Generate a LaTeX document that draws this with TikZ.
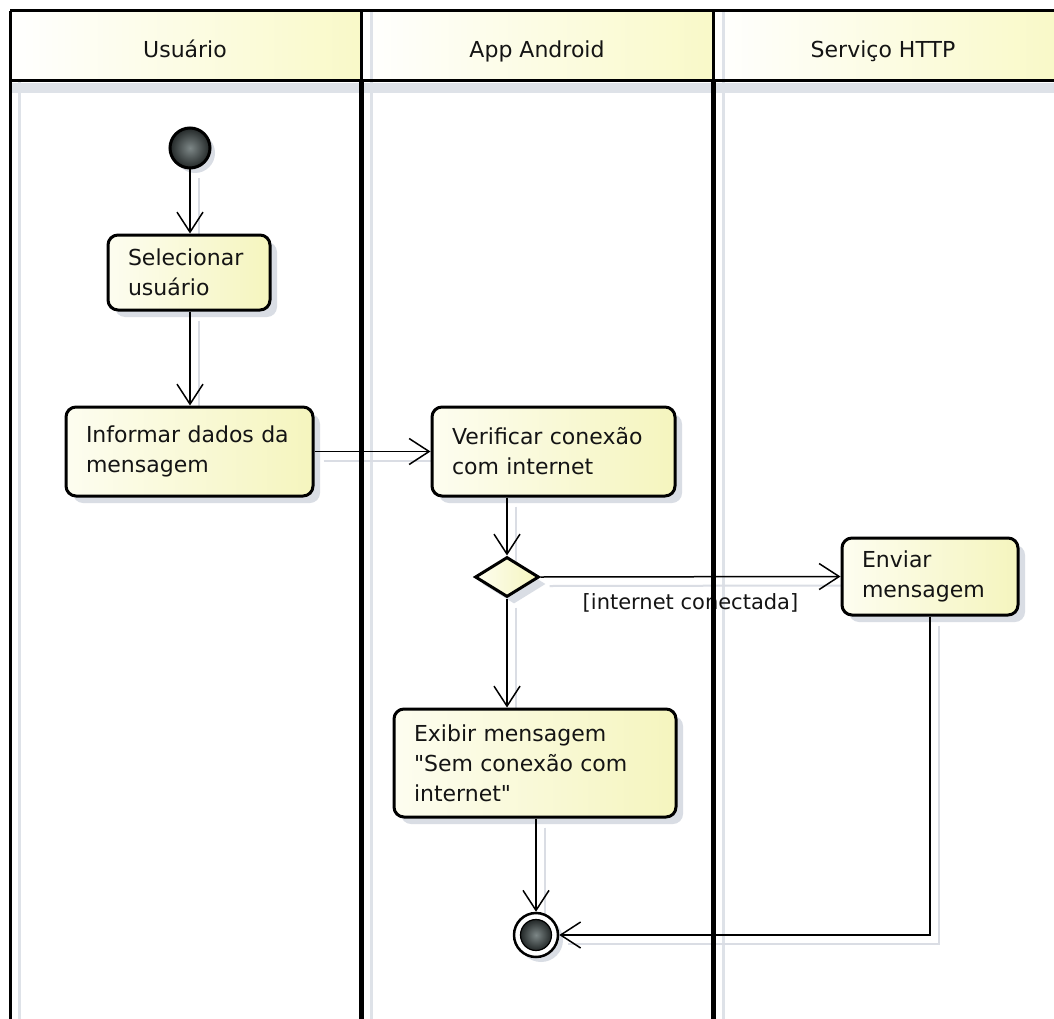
\documentclass[tikz,border=0pt]{standalone}
\usepackage{fontspec}
\setmainfont{DejaVu Sans}
\newfontfamily\qfont{DejaVu Sans}
\newcommand{\sq}{{\qfont\char34}}
\usetikzlibrary{arrows.meta,shapes.geometric,shadows,backgrounds}
\pgfdeclarelayer{foreground}
\pgfsetlayers{background,main,foreground}

\definecolor{boxlight}{RGB}{253,253,240}
\definecolor{boxyellow}{RGB}{245,245,190}
\definecolor{headyellow}{RGB}{249,249,200}
\definecolor{shadowgray}{RGB}{208,213,222}
\definecolor{inkgray}{RGB}{20,20,20}

\begin{document}
\begin{tikzpicture}[x=1pt,y=-1pt,
  txt/.style={font=\fontsize{22}{30}\selectfont, text=inkgray},
  activity/.style={txt, draw=black, line width=3pt, rounded corners=10pt,
    left color=boxlight, right color=boxyellow, align=left,
    inner xsep=20pt, inner ysep=0pt,
    drop shadow={shadow xshift=7pt, shadow yshift=-7pt, fill=shadowgray, opacity=0.8}},
  decision/.style={diamond, draw=black, line width=3pt, inner sep=0pt,
    left color=boxlight, right color=boxyellow,
    drop shadow={shadow xshift=7pt, shadow yshift=-7pt, fill=shadowgray, opacity=0.8}},
  startdot/.style={circle, draw=black, line width=3pt, inner sep=0pt,
    inner color={rgb,255:red,125;green,135;blue,135}, outer color={rgb,255:red,35;green,40;blue,40},
    drop shadow={shadow xshift=5pt, shadow yshift=-5pt, fill=shadowgray, opacity=0.8}},
  flow/.style={line width=1.5pt, black, -{Straight Barb[length=20pt,width=26pt]}},
  flowshadow/.style={line width=2pt, shadowgray!80,
    transform canvas={xshift=9pt,yshift=-9pt}},
  lanehead/.style={txt, anchor=base},
  laneline/.style={line width=3pt, black},
  lanedivider/.style={line width=5pt, black},
  laneshadow/.style={line width=3pt, shadowgray!70}
]
\useasboundingbox (0,0) rectangle (1054,1019);

% lane titles
\node[lanehead] (hUser) at (185,58) {Usuário};
\node[lanehead] (hApp)  at (537,58) {App Android};
\node[lanehead] (hHttp) at (883,58) {Serviço HTTP};

% activities
\node[startdot, minimum size=40pt] (init) at (190,148) {};
\node[activity, text width=122pt, minimum height=75pt] (sel) at (189,272.5)
  {Selecionar\\usuário};
\node[activity, text width=207pt, minimum height=89pt] (inf) at (189.5,451.5)
  {Informar dados da\\mensagem};
\node[activity, text width=203pt, minimum height=89pt] (ver) at (553.5,451.5)
  {Verificar conexão\\com internet};
\node[decision, minimum width=64pt, minimum height=40pt] (dia) at (507,577) {};
\node[activity, text width=136pt, minimum height=77pt] (env) at (930,576.5)
  {Enviar\\mensagem};
\node[activity, text width=242pt, minimum height=108pt] (exi) at (535,763)
  {Exibir mensagem\\\sq Sem conexão com\\internet\sq};
\node[circle, draw=black, line width=2.5pt, fill=white, minimum size=44pt, inner sep=0pt,
  drop shadow={shadow xshift=5pt, shadow yshift=-5pt, fill=shadowgray, opacity=0.8}]
  (fin) at (536,935) {};
\node[circle, draw=black, line width=1.2pt, minimum size=31pt, inner sep=0pt,
  inner color={rgb,255:red,125;green,135;blue,135}, outer color={rgb,255:red,35;green,40;blue,40}]
  (finin) at (fin.center) {};

% control flow
\draw[flow] (init) -- (init |- sel.north);
\draw[flow] (init |- sel.south) -- (init |- inf.north);
\draw[flow] (inf.east) -- (ver.west);
\draw[flow] (dia.north |- ver.south) -- (dia.north);
\draw[flow] (dia.east) -- node[txt, font=\fontsize{21}{26}\selectfont, midway, anchor=north, inner sep=0pt, yshift=-16pt] (guard) {[internet conectada]} (env.west);
\draw[flow] (dia.south) -- (dia.south |- exi.north);
\draw[flow] (fin.north |- exi.south) -- (fin.north);
\draw[flow] (env.south) |- (fin.east);

% lane backgrounds and soft shadows
\begin{pgfonlayer}{background}
  \fill[white] (0,0) rectangle (1054,1019);
  \shade[left color=white, right color=headyellow] (10,11) rectangle (361,81);
  \shade[left color=white, right color=headyellow] (361,11) rectangle (713,81);
  \shade[left color=white, right color=headyellow] (713,11) rectangle (1054,81);
  \fill[shadowgray!70] (10,83) rectangle (1054,93);
  \draw[laneshadow] (19,81) -- (19,1019);
  \draw[laneshadow] (371,11) -- (371,1019);
  \draw[laneshadow] (723,11) -- (723,1019);
  \draw[flowshadow] (init) -- (init |- sel.north);
  \draw[flowshadow] (init |- sel.south) -- (init |- inf.north);
  \draw[flowshadow] (inf.east) -- (ver.west);
  \draw[flowshadow] (dia.north |- ver.south) -- (dia.north);
  \draw[flowshadow] (dia.east) -- (env.west);
  \draw[flowshadow] (dia.south) -- (dia.south |- exi.north);
  \draw[flowshadow] (fin.north |- exi.south) -- (fin.north);
  \draw[flowshadow] (env.south) |- (fin.east);
\end{pgfonlayer}

% swimlane frame
\begin{pgfonlayer}{foreground}
  \draw[laneline] (10,11) -- (1054,11);
  \draw[laneline] (10,81) -- (1054,81);
  \draw[laneline] (10,11) -- (10,1019);
  \draw[laneline] (361,11) -- (361,81);
  \draw[laneline] (713,11) -- (713,81);
  \draw[lanedivider] (361,81) -- (361,1019);
  \draw[lanedivider] (713,81) -- (713,1019);
\end{pgfonlayer}
\end{tikzpicture}
\end{document}
